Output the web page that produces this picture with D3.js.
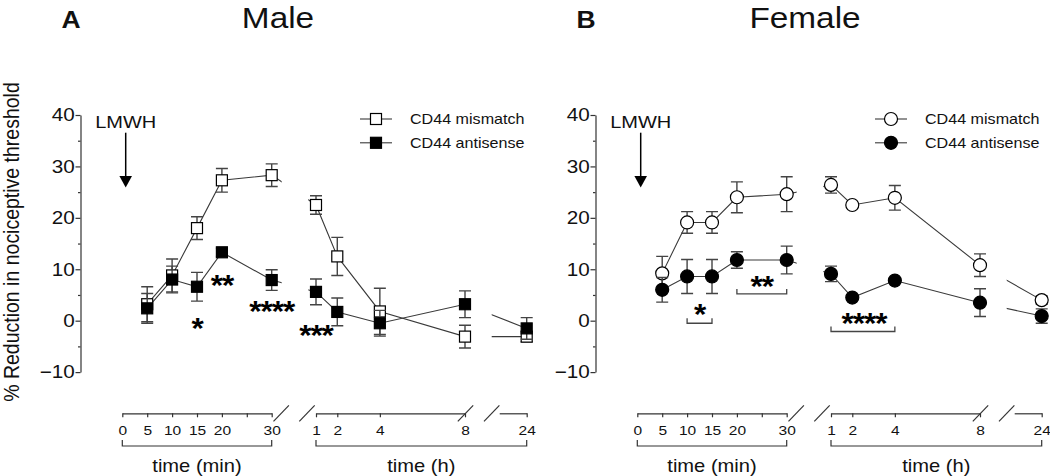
<!DOCTYPE html>
<html>
<head>
<meta charset="utf-8">
<script src="https://cdn.jsdelivr.net/npm/d3@7"></script>
<style>
  body { margin: 0; background: #fff; }
  svg { display: block; font-family: "Liberation Sans", Arial, sans-serif; }
</style>
</head>
<body>
<div id="chart"></div>
<script>
// time points
const minTimes = [5, 10, 15, 20, 30];
const hourTimes = [1, 2, 4, 8, 24];
const minTicks = [0, 5, 10, 15, 20, 25, 30];
const minTickLabels = ["0", "5", "10", "15", "20", "", "30"];
const hourTicks = [1, 2, 4, 8];
const yTicks = [40, 30, 20, 10, 0, -10];
const yMinorTicks = [35, 25, 15, 5, -5];
const seriesNames = ["CD44 mismatch", "CD44 antisense"];

// male: mean and SEM
const maleMismatchMin = [3.2, 8.8, 18.0, 27.3, 28.3];
const maleMismatchMinErr = [3.4, 3.2, 2.2, 2.3, 2.2];
const maleMismatchHour = [22.5, 12.5, 1.8, -3.1, -3.1];
const maleMismatchHourErr = [1.8, 3.7, 4.5, 2.2, 1.0];
const maleAntiMin = [2.4, 8.0, 6.6, 13.3, 7.9];
const maleAntiMinErr = [2.9, 2.6, 2.8, 0.8, 2.0];
const maleAntiHour = [5.6, 1.7, -0.5, 3.2, -1.5];
const maleAntiHourErr = [2.5, 2.7, 2.5, 2.6, 2.1];

// female: mean and SEM
const femMismatchMin = [9.2, 19.1, 19.1, 24.0, 24.6];
const femMismatchMinErr = [3.3, 2.1, 2.1, 3.0, 3.4];
const femMismatchHour = [26.4, 22.5, 23.9, 10.8, 4.0];
const femMismatchHourErr = [1.6, 0.4, 2.4, 2.2, 0.8];
const femAntiMin = [6.0, 8.6, 8.6, 11.8, 11.8];
const femAntiMinErr = [2.4, 3.3, 3.3, 1.6, 2.7];
const femAntiHour = [9.1, 4.5, 7.8, 3.5, 0.9];
const femAntiHourErr = [1.5, 0.4, 0.5, 2.7, 1.4];

// significance marks
const maleStars = [
  {text: "*", t: 15, unit: "min", v: -0.2},
  {text: "**", t: 20, unit: "min", v: 8.1},
  {text: "****", t: 30, unit: "min", v: 3.0},
  {text: "***", t: 1, unit: "h", v: -1.7}
];
const femStars = [
  {text: "*", t: 12.5, unit: "min", v: 2.5},
  {text: "**", t: 25, unit: "min", v: 8.0},
  {text: "****", t: 2.55, unit: "h", v: 0.8}
];
const femBrackets = [
  {from: 10, to: 15, unit: "min", v: -0.5},
  {from: 20, to: 30, unit: "min", v: 5.2},
  {from: 1, to: 4, unit: "h", v: -2.1}
];

const W = 1050, H = 476;
const SX = 1.15; // glyphs in the figure are a bit wide
const ink = "#111", lineCol = "#3a3a3a";

const svg = d3.select("#chart").append("svg")
  .attr("width", W).attr("height", H);

const y = d3.scaleLinear().domain([-10, 40]).range([372.1, 115]);
const axisY = 413.3;

function label(g, x, yy, str, size, anchor, weight) {
  return g.append("text")
    .attr("transform", `translate(${x},${yy}) scale(${SX},1)`)
    .attr("text-anchor", anchor || "start")
    .attr("font-size", size)
    .attr("font-weight", weight || "normal")
    .attr("fill", ink)
    .text(str);
}

function marker(g, shape, filled, cx, cy) {
  if (shape === "square") {
    g.append("rect")
      .attr("x", cx - 5.5).attr("y", cy - 5.5)
      .attr("width", 11).attr("height", 11)
      .attr("fill", filled ? "#000" : "#fff")
      .attr("stroke", "#000").attr("stroke-width", 1.2);
  } else {
    g.append("circle")
      .attr("cx", cx).attr("cy", cy).attr("r", 6.5)
      .attr("fill", filled ? "#000" : "#fff")
      .attr("stroke", "#000").attr("stroke-width", 1.2);
  }
}

const panels = [
  {
    dx: 0, letter: "A", title: "Male", titleX: 278, shape: "square", yLabel: true,
    series: [
      {min: maleMismatchMin, minErr: maleMismatchMinErr, hour: maleMismatchHour, hourErr: maleMismatchHourErr, filled: false},
      {min: maleAntiMin, minErr: maleAntiMinErr, hour: maleAntiHour, hourErr: maleAntiHourErr, filled: true}
    ],
    stars: maleStars, brackets: []
  },
  {
    dx: 515, letter: "B", title: "Female", titleX: 805, shape: "circle", yLabel: false,
    series: [
      {min: femMismatchMin, minErr: femMismatchMinErr, hour: femMismatchHour, hourErr: femMismatchHourErr, filled: false},
      {min: femAntiMin, minErr: femAntiMinErr, hour: femAntiHour, hourErr: femAntiHourErr, filled: true}
    ],
    stars: femStars, brackets: femBrackets
  }
];

panels.forEach((p, pi) => {
  const g = svg.append("g");
  const dx = p.dx;

  // three broken x segments
  const xMin = d3.scaleLinear().domain([0, 30]).range([122.3 + dx, 271.7 + dx]);
  const xH = d3.scaleLinear().domain([1, 8]).range([316 + dx, 465 + dx]);
  const xEnd = d3.scaleLinear().domain([22, 24]).range([491.7 + dx, 526.7 + dx]);
  const xAt = (t, unit) => unit === "min" ? xMin(t) : (t >= 24 ? xEnd(t) : xH(t));

  // titles
  label(g, 71 + dx, 27.5, p.letter, 23, "middle", "bold");
  label(g, p.titleX, 27.5, p.title, 29, "middle");

  // y axis
  const yAxisX = 80.5 + dx;
  const ya = g.append("g").attr("transform", `translate(${yAxisX},0)`)
    .call(d3.axisLeft(y).tickValues(yTicks).tickSize(5).tickSizeOuter(0).tickPadding(0)
      .tickFormat(d3.format("d")));
  g.append("g").attr("transform", `translate(${yAxisX},0)`)
    .call(d3.axisLeft(y).tickValues(yMinorTicks).tickSize(2.5).tickFormat(""))
    .select(".domain").remove();
  g.selectAll(".tick line, .domain").attr("stroke", "#333").attr("stroke-width", 1.2);
  ya.selectAll("text").attr("font-size", 18).attr("fill", ink)
    .attr("font-family", "Liberation Sans, Arial, sans-serif")
    .attr("transform", `scale(${SX},1)`);

  if (p.yLabel) {
    g.append("text")
      .attr("transform", `translate(19,242) rotate(-90) scale(1,${SX})`)
      .attr("text-anchor", "middle").attr("font-size", 19.5).attr("fill", ink)
      .text("% Reduction in nociceptive threshold");
  }

  // x axes
  const styleX = sel => {
    sel.selectAll(".tick line, .domain").attr("stroke", "#333").attr("stroke-width", 1.2);
    sel.selectAll("text").attr("font-size", 13.5).attr("fill", ink)
      .attr("font-family", "Liberation Sans, Arial, sans-serif")
      .attr("transform", `scale(${SX},1)`);
  };
  const a1 = g.append("g").attr("transform", `translate(0,${axisY})`)
    .call(d3.axisBottom(xMin).tickValues(minTicks).tickSize(4).tickSizeOuter(0).tickPadding(8)
      .tickFormat((d, i) => minTickLabels[i]));
  styleX(a1);
  const a2 = g.append("g").attr("transform", `translate(0,${axisY})`)
    .call(d3.axisBottom(xH).tickValues(hourTicks).tickSize(4).tickSizeOuter(0).tickPadding(8)
      .tickFormat(d3.format("d")));
  styleX(a2);
  const xEndShort = xEnd.copy().domain([xEnd.invert(xEnd(24) - 27.5), 24]).range([xEnd(24) - 27.5, xEnd(24)]);
  const a3 = g.append("g").attr("transform", `translate(0,${axisY})`)
    .call(d3.axisBottom(xEndShort).tickValues([24]).tickSize(4).tickSizeOuter(0).tickPadding(8)
      .tickFormat(d3.format("d")));
  styleX(a3);

  // break marks
  const slashes = [xMin(30) + 9.5, xH(1) - 9, xH(8) + 0.5, xEnd(22)];
  slashes.forEach(cx => {
    g.append("line")
      .attr("x1", cx - 7.7).attr("y1", axisY + 8)
      .attr("x2", cx + 7.7).attr("y2", axisY - 8)
      .attr("stroke", "#333").attr("stroke-width", 1.2);
  });

  // brackets under axes and their titles
  const bY = 446;
  [[xMin(0), xMin(30), "time (min)"], [xH(1), xEnd(24), "time (h)"]].forEach(([x1, x2, txt]) => {
    g.append("path")
      .attr("d", `M${x1},${bY - 6}V${bY}H${x2}V${bY - 6}`)
      .attr("fill", "none").attr("stroke", "#333").attr("stroke-width", 1.2);
    label(g, (x1 + x2) / 2, 471.5, txt, 17.5, "middle");
  });

  // LMWH arrow
  const ax = xMin(0) + 3.4;
  label(g, ax, 127.5, "LMWH", 17.4, "middle");
  g.append("line").attr("x1", ax).attr("y1", 132.7).attr("x2", ax).attr("y2", 177)
    .attr("stroke", "#000").attr("stroke-width", 1.5);
  g.append("path")
    .attr("d", `M${ax - 6.3},176L${ax + 6.3},176L${ax},187.5Z`)
    .attr("fill", "#000");

  // clipping for the data lines (lines break with the axis)
  const clipId = "clip" + pi;
  const cp = svg.append("clipPath").attr("id", clipId);
  [[xMin(0) - 20, xMin(30) + 10], [xH(1) - 7.7, xH(8)], [xEnd(22), xEnd(24) + 20]].forEach(([a, b]) => {
    cp.append("rect").attr("x", a).attr("y", 0).attr("width", b - a).attr("height", H);
  });

  const pts = p.series.map(s => {
    const a = minTimes.map((t, i) => ({x: xMin(t), v: s.min[i], e: s.minErr[i]}));
    const b = hourTimes.map((t, i) => ({x: xAt(t, "h"), v: s.hour[i], e: s.hourErr[i]}));
    return a.concat(b);
  });

  const line = d3.line().x(d => d.x).y(d => y(d.v));
  pts.forEach(ps => {
    g.append("path").attr("d", line(ps))
      .attr("clip-path", `url(#${clipId})`)
      .attr("fill", "none").attr("stroke", lineCol).attr("stroke-width", 1.1);
  });

  pts.forEach((ps, si) => {
    ps.forEach(d => {
      const y1 = y(d.v + d.e), y2 = y(d.v - d.e);
      g.append("path")
        .attr("d", `M${d.x},${y1}V${y2}M${d.x - 6},${y1}H${d.x + 6}M${d.x - 6},${y2}H${d.x + 6}`)
        .attr("fill", "none").attr("stroke", "#444").attr("stroke-width", 1.4);
    });
    ps.forEach(d => marker(g, p.shape, p.series[si].filled, d.x, y(d.v)));
  });

  // significance
  p.stars.forEach(s => {
    g.append("text")
      .attr("transform", `translate(${xAt(s.t, s.unit)},${y(s.v) + 16}) scale(1.05,1)`)
      .attr("text-anchor", "middle").attr("font-size", 30).attr("font-weight", "bold")
      .attr("letter-spacing", -1).attr("fill", "#000")
      .text(s.text);
  });
  p.brackets.forEach(b => {
    const x1 = xAt(b.from, b.unit), x2 = xAt(b.to, b.unit), yy = y(b.v);
    g.append("path")
      .attr("d", `M${x1},${yy - 5}V${yy}H${x2}V${yy - 5}`)
      .attr("fill", "none").attr("stroke", "#444").attr("stroke-width", 1.3);
  });

  // legend
  const lx = 376 + dx;
  [119, 142.8].forEach((ly, i) => {
    g.append("line").attr("x1", lx - 16).attr("x2", lx + 16).attr("y1", ly).attr("y2", ly)
      .attr("stroke", lineCol).attr("stroke-width", 1.1);
    marker(g, p.shape, i === 1, lx, ly);
    label(g, lx + 34, ly + 5, seriesNames[i], 14, "start");
  });
});
</script>
</body>
</html>
